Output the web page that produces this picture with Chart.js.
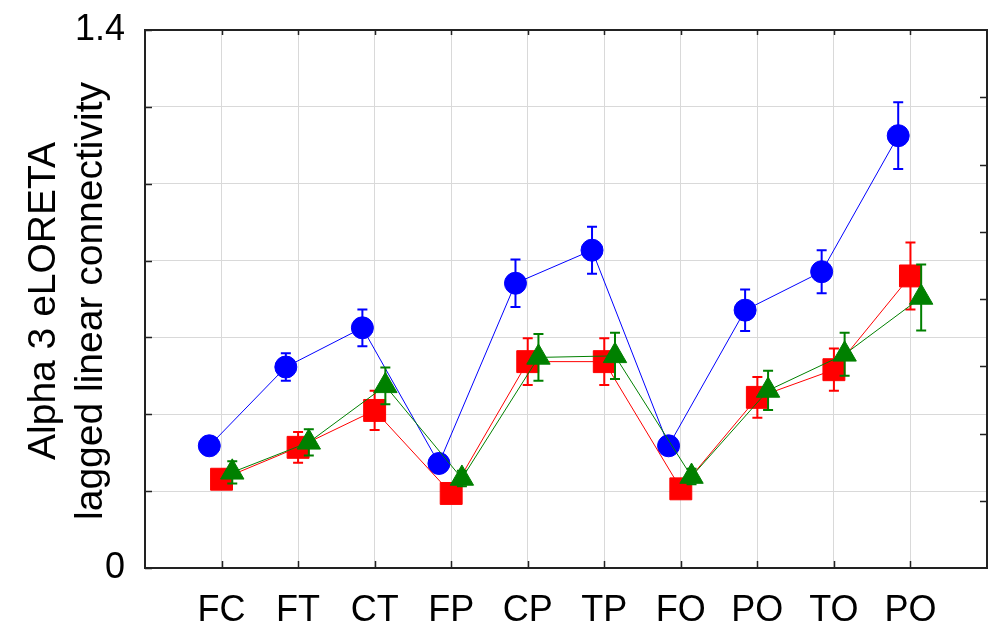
<!DOCTYPE html>
<html>
<head>
<meta charset="utf-8">
<script src="https://cdn.jsdelivr.net/npm/chart.js@4.4.0/dist/chart.umd.min.js"></script>
<style>
	html, body { margin: 0; padding: 0; background: #fff; }
	#wrap { width: 994px; height: 638px; }
</style>
</head>
<body>
<div id="wrap"><canvas id="connectivity" width="994" height="638"></canvas></div>
<script>
var categories = ['FC', 'FT', 'CT', 'FP', 'CP', 'TP', 'FO', 'PO', 'TO', 'PO'];
var blueValues = [0.318, 0.523, 0.625, 0.272, 0.741, 0.827, 0.318, 0.671, 0.771, 1.125];
var blueErrors = [0.02, 0.036, 0.048, 0.02, 0.062, 0.061, 0.02, 0.054, 0.056, 0.087];
var redValues = [0.231, 0.314, 0.410, 0.194, 0.537, 0.537, 0.206, 0.444, 0.516, 0.760];
var redErrors = [0.02, 0.04, 0.051, 0.02, 0.061, 0.061, 0.02, 0.053, 0.055, 0.087];
var greenValues = [0.249, 0.327, 0.474, 0.233, 0.548, 0.552, 0.238, 0.462, 0.556, 0.704];
var greenErrors = [0.029, 0.034, 0.048, 0.02, 0.061, 0.06, 0.02, 0.051, 0.056, 0.086];
var yTickLabels = ['0', '1.4'];
var yTitle = ['Alpha 3 eLORETA', 'lagged linear connectivity'];

var FONT = '"Liberation Sans", Arial, sans-serif';

function toPoints(values, shift) {
	return values.map(function (v, i) { return { x: i + shift, y: v }; });
}

function noOverflow(scale) {
	scale.paddingTop = 0;
	scale.paddingBottom = 0;
	scale.paddingLeft = 0;
	scale.paddingRight = 0;
}

//////////////////// error bars ////////////////////
var errorBars = {
	id: 'errorBars',
	beforeDatasetDraw: function (chart, args) {
		var ds = chart.data.datasets[args.index];
		var meta = args.meta;
		var yScale = chart.scales.y;
		var ctx = chart.ctx;
		ctx.save();
		ctx.strokeStyle = ds.borderColor;
		ctx.lineWidth = 2;
		meta.data.forEach(function (el, i) {
			var v = ds.data[i].y, e = ds.errors[i];
			var top = yScale.getPixelForValue(v + e);
			var bot = yScale.getPixelForValue(v - e);
			ctx.beginPath();
			ctx.moveTo(el.x, top); ctx.lineTo(el.x, bot);
			ctx.moveTo(el.x - 5, top); ctx.lineTo(el.x + 5, top);
			ctx.moveTo(el.x - 5, bot); ctx.lineTo(el.x + 5, bot);
			ctx.stroke();
		});
		ctx.restore();
	}
};

//////////////////// frame, inward ticks, title ////////////////////
var frame = {
	id: 'frame',
	afterDraw: function (chart) {
		var ctx = chart.ctx;
		var a = chart.chartArea;
		var xs = chart.scales.x, ys = chart.scales.y;
		ctx.save();
		ctx.strokeStyle = '#222';
		ctx.lineWidth = 1.5;
		ctx.beginPath();
		for (var i = 0; i < categories.length; i++) {
			var px = Math.round(xs.getPixelForValue(i)) + 0.5;
			ctx.moveTo(px, a.bottom); ctx.lineTo(px, a.bottom - 7);
			ctx.moveTo(px, a.top); ctx.lineTo(px, a.top + 5);
		}
		ys.ticks.forEach(function (t) {
			var py = Math.round(ys.getPixelForValue(t.value)) + 0.5;
			ctx.moveTo(a.left, py); ctx.lineTo(a.left + 7, py);
		});
		// right axis has its own 8 divisions
		for (var k = 1; k < 8; k++) {
			var ry = Math.round(ys.getPixelForValue(ys.max * k / 8)) + 0.5;
			ctx.moveTo(a.right, ry); ctx.lineTo(a.right - 7, ry);
		}
		ctx.stroke();
		ctx.lineWidth = 2;
		ctx.strokeRect(a.left, a.top, a.right - a.left, a.bottom - a.top);

		ctx.fillStyle = '#000';
		ctx.font = '39px ' + FONT;
		ctx.textAlign = 'center';
		ctx.textBaseline = 'alphabetic';
		var cy = (a.top + a.bottom) / 2 + 2;
		[55, 102].forEach(function (bx, n) {
			ctx.save();
			ctx.translate(bx, cy);
			ctx.rotate(-Math.PI / 2);
			ctx.fillText(yTitle[n], 0, 0);
			ctx.restore();
		});
		ctx.restore();
	}
};

var connectivity_chart = document.getElementById('connectivity').getContext('2d');
var connectivity = new Chart(connectivity_chart, {
	type: 'line',
	data: {
		datasets: [{
			data: toPoints(blueValues, -0.16),
			errors: blueErrors,
			borderColor: '#0000ff',
			backgroundColor: '#0000ff',
			borderWidth: 1,
			pointStyle: 'circle',
			pointRadius: 11,
			pointBorderWidth: 1,
			order: 3
		}, {
			data: toPoints(redValues, 0),
			errors: redErrors,
			borderColor: '#ff0000',
			backgroundColor: '#ff0000',
			borderWidth: 1,
			pointStyle: 'rect',
			pointRadius: 15.5,
			pointBorderWidth: 1,
			order: 2
		}, {
			data: toPoints(greenValues, 0.14),
			errors: greenErrors,
			borderColor: '#008000',
			backgroundColor: '#008000',
			borderWidth: 1,
			pointStyle: 'triangle',
			pointRadius: 13.5,
			pointBorderWidth: 1,
			order: 1
		}]
	},
	options: {
		responsive: false,
		animation: false,
		events: [],
		layout: { autoPadding: false, padding: { top: 30, right: 7, left: 0, bottom: 0 } },
		plugins: { legend: { display: false }, tooltip: { enabled: false } },
		scales: {
			x: {
				type: 'linear',
				min: -1,
				max: 10,
				afterFit: function (scale) { scale.height = 70; noOverflow(scale); },
				border: { display: false },
				grid: { color: '#d9d9d9', lineWidth: 1, drawTicks: false },
				ticks: {
					stepSize: 1,
					autoSkip: false,
					maxRotation: 0,
					padding: 21,
					color: '#000',
					font: { family: FONT, size: 36 },
					callback: function (v) { return categories[v] !== undefined ? categories[v] : ''; }
				}
			},
			y: {
				min: 0,
				max: 1.4,
				afterFit: function (scale) { scale.width = 145; noOverflow(scale); },
				border: { display: false },
				grid: { color: '#d9d9d9', lineWidth: 1, drawTicks: false },
				ticks: {
					stepSize: 0.2,
					padding: 20,
					color: '#000',
					font: { family: FONT, size: 36 },
					callback: function (v, i, ticks) {
						if (i === 0) return yTickLabels[0];
						if (i === ticks.length - 1) return yTickLabels[1];
						return '';
					}
				}
			}
		}
	},
	plugins: [errorBars, frame]
});
</script>
</body>
</html>
